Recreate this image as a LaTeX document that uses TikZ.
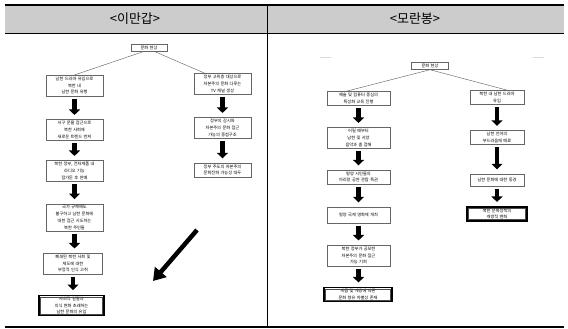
\documentclass[tikz,border=0pt]{standalone}
\usepackage{fontspec}
\setmainfont{Noto Sans CJK KR}
\usetikzlibrary{arrows.meta,calc}
\begin{document}
\begin{tikzpicture}[x=1pt,y=-1pt,
  box/.style={draw=black!60, line width=0.45pt, fill=white, align=center,
    font=\fontsize{4.2}{6.8}\selectfont, inner xsep=1pt, inner ysep=1.6pt, text width=#1},
  finbox/.style={box=#1, draw=black, line width=1.3pt},
  blk/.style={line width=4.2pt, -{Triangle[width=11pt,length=5.5pt]}, shorten <=2.5pt, shorten >=4.5pt},
  link/.style={draw=black!60, line width=0.45pt},
  head/.style={font=\fontsize{13}{15}\selectfont}]
\useasboundingbox (0,0) rectangle (568,329);
% table
\fill[black!20] (5,5) rectangle (564,33);
\draw[line width=1.6pt] (5,5) -- (564,5);
\draw[line width=0.6pt] (5,33) -- (564,33);
\draw[line width=0.6pt] (267,5) -- (267,327);
\draw[line width=1.6pt] (5,327) -- (564,327);
\node[head] (h1) at (135,19) {<이만갑>};
\node[head] (h2) at (415,19) {<모란봉>};
% left panel
\node[box=34pt] (T1) at (149,48) {문화 현상};
\node[box=55pt] (L1) at (74.5,85.5) {남한 드라마 유입으로\\북한 내\\남한 문화 유행};
\node[box=55pt] (L2) at (74.5,130) {서구 문물 접근으로\\북한 사회에\\새로운 트렌드 번져};
\node[box=55pt] (L3) at (74.5,171) {북한 정부, 전자제품 내\\라디오 기능\\잠가둔 후 판매};
\node[box=55pt] (L4) at (74.5,217.5) {국가 규제에도\\불구하고 남한 문화에\\대한 접근 시도하는\\북한 주민들};
\node[box=57pt] (L5) at (73,263.5) {폐쇄된 북한 사회 및\\제도에 대한\\부정적 인식 고취};
\node[finbox=63pt] (L6) at (71.5,305.5) {사회적 일탈과\\의식 변화 초래하는\\남한 문화의 유입};
\draw[black!70, line width=0.4pt] ($(L6.north west)+(2.2,2.2)$) rectangle ($(L6.south east)+(-2.2,-2.2)$);
\node[box=55pt] (R1) at (222.5,84) {정부 고위층 대상으로\\자본주의 문화 다루는\\TV 채널 생성};
\node[box=55pt] (R2) at (222.5,128) {정부의 감시와\\자본주의 문화 접근\\가능의 중첩구조};
\node[box=55pt] (R3) at (222.5,170) {정부 주도의 자본주의\\문화전파 가능성 대두};
\draw[link] ($(T1.south)+(-6,0)$) -- (L1.north);
\draw[link] ($(T1.south)+(6,0)$) -- ($(R1.north west)!0.2!(R1.north east)$);
\foreach \a/\b in {L1/L2,L2/L3,L3/L4,L4/L5,L5/L6,R1/R2,R2/R3}
  \draw[blk] (\a.south) -- (\a.south |- \b.north);
\coordinate (bs) at (197,230);
\coordinate (be) at (153,281);
\draw[line width=4.5pt, -{Triangle[width=15pt,length=12pt]}] (bs) -- (be);
% right panel
\draw[black!15, line width=0.6pt] (320,57) -- (331,57);
\draw[black!15, line width=0.6pt] (533,57) -- (544,57);
\node[box=35pt] (T2) at (430,66) {문화 현상};
\node[box=61pt] (M1) at (358.5,98.5) {예술 및 컴퓨터 중심의\\특성화 교육 진행};
\node[box=61pt] (M2) at (358.5,138) {어릴 때부터\\남한 및 서양\\음악과 춤 접해};
\node[box=61pt] (M3) at (358.5,177) {평양 시민들의\\아리랑 공연 관람 특권};
\node[box=61pt, minimum height=16pt] (M4) at (358.5,215) {평양 국제 영화제 개최};
\node[box=61pt] (M5) at (358.5,255.5) {북한 정부가 공모한\\자본주의 문화 접근\\가능 기회};
\node[finbox=66pt] (M6) at (358,294.5) {계급 및 계층에 따른\\문화 향유 차별성 존재};
\draw[black!70, line width=0.4pt] ($(M6.north west)+(2.2,2.2)$) rectangle ($(M6.south east)+(-2.2,-2.2)$);
\node[box=52pt] (N1) at (497,97.5) {북한 내 남한 드라마\\유입};
\node[box=52pt] (N2) at (497,137.5) {남한 언어의\\부드러움에 매료};
\node[box=52pt, minimum height=12pt] (N3) at (497,180) {남한 문화에 대한 동경};
\node[finbox=58pt] (N4) at (497,214) {북한 문화정책의\\개방적 변화};
\draw[black!70, line width=0.4pt] ($(N4.north west)+(2.2,2.2)$) rectangle ($(N4.south east)+(-2.2,-2.2)$);
\draw[link] (T2.south) -- ($(M1.north west)!0.3!(M1.north east)$);
\draw[link] (T2.south) -- ($(N1.north west)!0.7!(N1.north east)$);
\foreach \a/\b in {M1/M2,M2/M3,M3/M4,M4/M5,M5/M6,N1/N2,N2/N3,N3/N4}
  \draw[blk] (\a.south) -- (\a.south |- \b.north);
\end{tikzpicture}
\end{document}
